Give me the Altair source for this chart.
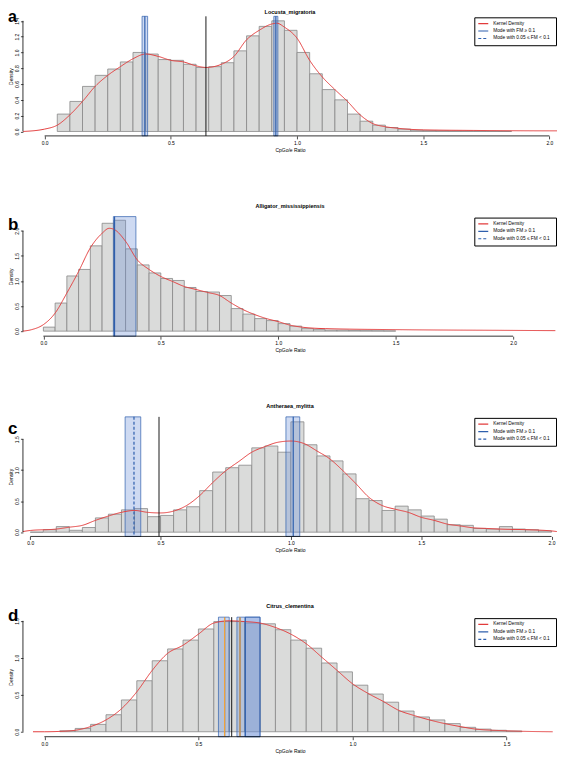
import altair as alt
import pandas as pd

FONT = "Liberation Sans"
BW = 0.05
S_KD = "Kernel Density"
S_M1 = "Mode with FM  \u2265 0.1"
S_M2 = "Mode with 0.05  \u2264 FM  < 0.1"
SERIES = [S_KD, S_M1, S_M2]
X_TITLE = "CpGo/e Ratio"
Y_TITLE = "Density"

# ---------------- panel a ----------------
a_letter = "a"
a_name = "Locusta_migratoria"
a_hist_start = 0.05
a_hist = [0.22, 0.38, 0.57, 0.71, 0.79, 0.88, 1.00, 0.98, 0.91, 0.90, 0.85, 0.81, 0.82,
          0.87, 1.02, 1.21, 1.33, 1.40, 1.28, 1.00, 0.73, 0.53, 0.40, 0.22, 0.13, 0.08,
          0.05, 0.03, 0.015, 0.01, 0.008, 0.006, 0.005, 0.004, 0.003, 0.002]
a_dens_x = [-0.085, 0.0, 0.05, 0.10, 0.15, 0.20, 0.25, 0.30, 0.35, 0.40, 0.45, 0.50, 0.55,
            0.60, 0.64, 0.70, 0.75, 0.80, 0.85, 0.90, 0.92, 0.95, 1.00, 1.05, 1.10, 1.15,
            1.20, 1.25, 1.30, 1.35, 1.40, 1.50, 1.70, 2.00, 2.03]
a_dens_y = [0.0, 0.03, 0.08, 0.21, 0.38, 0.57, 0.71, 0.82, 0.92, 0.98, 0.95, 0.90, 0.88,
            0.83, 0.81, 0.85, 0.95, 1.16, 1.28, 1.36, 1.37, 1.32, 1.18, 0.90, 0.69, 0.53,
            0.38, 0.21, 0.10, 0.06, 0.04, 0.02, 0.013, 0.008, 0.008]
a_mode = [0.397, 0.916]
a_lo = [0.386, 0.908]
a_hi = [0.408, 0.924]
a_kind = [S_M1, S_M1]
a_black = [0.639]
a_orange = []
a_xdom = [-0.086, 2.03]
a_ydom = [-0.056, 1.457]
a_xticks = [0.0, 0.5, 1.0, 1.5, 2.0]
a_yticks = [0.0, 0.2, 0.4, 0.6, 0.8, 1.0, 1.2, 1.4]

# ---------------- panel b ----------------
b_letter = "b"
b_name = "Alligator_mississippiensis"
b_hist_start = 0.0
b_hist = [0.08, 0.56, 1.10, 1.23, 1.70, 2.15, 2.21, 1.64, 1.32, 1.16, 1.05, 1.01, 0.87,
          0.79, 0.78, 0.71, 0.45, 0.34, 0.25, 0.21, 0.15, 0.10, 0.05, 0.03, 0.02, 0.02,
          0.015, 0.01, 0.008, 0.006]
b_dens_x = [-0.087, -0.05, 0.0, 0.05, 0.10, 0.15, 0.20, 0.25, 0.28, 0.30, 0.35, 0.40, 0.45,
            0.50, 0.55, 0.60, 0.65, 0.70, 0.75, 0.80, 0.85, 0.90, 0.95, 1.00, 1.05, 1.10,
            1.20, 1.50, 2.00, 2.18]
b_dens_y = [0.0, 0.03, 0.13, 0.36, 0.76, 1.19, 1.66, 1.95, 2.05, 2.03, 1.79, 1.42, 1.23,
            1.09, 0.99, 0.89, 0.83, 0.77, 0.71, 0.56, 0.43, 0.33, 0.25, 0.19, 0.12, 0.08,
            0.05, 0.03, 0.015, 0.01]
b_mode = [0.303]
b_lo = [0.298]
b_hi = [0.394]
b_kind = [S_M1]
b_black = []
b_orange = []
b_xdom = [-0.087, 2.187]
b_ydom = [-0.10, 2.283]
b_xticks = [0.0, 0.5, 1.0, 1.5, 2.0]
b_yticks = [0.0, 0.5, 1.0, 1.5, 2.0]

# ---------------- panel c ----------------
c_letter = "c"
c_name = "Antheraea_mylitta"
c_hist_start = 0.0
c_hist = [0.0, 0.04, 0.09, 0.03, 0.075, 0.23, 0.29, 0.36, 0.38, 0.25, 0.27, 0.36, 0.41,
          0.67, 0.97, 1.04, 1.08, 1.36, 1.39, 1.29, 1.78, 1.41, 1.23, 1.15, 0.94, 0.54,
          0.51, 0.35, 0.42, 0.36, 0.26, 0.21, 0.12, 0.11, 0.06, 0.05, 0.09, 0.05, 0.04, 0.02]
c_dens_x = [-0.028, 0.0, 0.10, 0.15, 0.20, 0.25, 0.30, 0.35, 0.40, 0.45, 0.50, 0.55, 0.60,
            0.65, 0.70, 0.75, 0.80, 0.85, 0.90, 0.95, 1.00, 1.05, 1.10, 1.15, 1.20, 1.25,
            1.30, 1.35, 1.40, 1.45, 1.50, 1.55, 1.60, 1.65, 1.70, 1.75, 1.80, 1.90, 2.00, 2.02]
c_dens_y = [0.01, 0.027, 0.05, 0.08, 0.11, 0.19, 0.26, 0.32, 0.35, 0.32, 0.31, 0.34, 0.43,
            0.59, 0.80, 0.99, 1.14, 1.29, 1.38, 1.45, 1.47, 1.43, 1.31, 1.18, 0.99, 0.78,
            0.56, 0.43, 0.37, 0.32, 0.24, 0.19, 0.13, 0.10, 0.07, 0.06, 0.05, 0.04, 0.02, 0.01]
c_mode = [0.398, 1.009]
c_lo = [0.364, 0.981]
c_hi = [0.424, 1.034]
c_kind = [S_M2, S_M1]
c_black = [0.494]
c_orange = []
c_xdom = [-0.028, 2.021]
c_ydom = [-0.069, 1.86]
c_xticks = [0.0, 0.5, 1.0, 1.5, 2.0]
c_yticks = [0.0, 0.5, 1.0, 1.5]

# ---------------- panel d ----------------
d_letter = "d"
d_name = "Citrus_clementina"
d_hist_start = 0.05
d_hist = [0.013, 0.045, 0.10, 0.23, 0.43, 0.69, 0.96, 1.12, 1.24, 1.39, 1.49, 1.49, 1.47,
          1.46, 1.38, 1.24, 1.13, 0.93, 0.81, 0.63, 0.51, 0.40, 0.28, 0.20, 0.16, 0.11,
          0.06, 0.036, 0.02, 0.01]
d_dens_x = [-0.037, 0.0, 0.05, 0.10, 0.15, 0.20, 0.25, 0.30, 0.35, 0.40, 0.45, 0.50, 0.55,
            0.60, 0.65, 0.70, 0.75, 0.80, 0.85, 0.90, 0.95, 1.00, 1.05, 1.10, 1.15, 1.20,
            1.25, 1.30, 1.35, 1.40, 1.50, 1.65]
d_dens_y = [0.0, 0.0, 0.005, 0.02, 0.07, 0.16, 0.31, 0.54, 0.83, 1.06, 1.17, 1.32, 1.47,
            1.50, 1.49, 1.47, 1.41, 1.32, 1.19, 1.01, 0.83, 0.65, 0.52, 0.41, 0.29, 0.22,
            0.16, 0.11, 0.07, 0.036, 0.013, 0.0]
d_mode = [0.585, 0.635, 0.652]
d_lo = [0.565, 0.625, 0.652]
d_hi = [0.600, 0.700, 0.700]
d_kind = [S_M1, S_M1, S_M1]
d_black = [0.608]
d_orange = [0.585, 0.635]
d_xdom = [-0.0696, 1.664]
d_ydom = [-0.067, 1.55]
d_xticks = [0.0, 0.5, 1.0, 1.5]
d_yticks = [0.0, 0.5, 1.0, 1.5]

# ---------------- style ----------------
W, H = 536, 120
LEFT = 15
BAR_FILL = "#dadbda"
BAR_STROKE = "#888888"
RED = "#e23b3b"
BLUE = "#2e5fad"
CI_FILL = "#6a8fd8"
ORANGE = "#f2a33a"

cscale = alt.Scale(domain=SERIES, range=[RED, BLUE, BLUE])
dscale = alt.Scale(domain=SERIES, range=[[1, 0], [1, 0], [3, 2]])
legend = alt.Legend(title=None, orient="top-right", offset=1, padding=3,
                    strokeColor="black", fillColor="white", labelFontSize=4.8,
                    labelFont=FONT, labelColor="black", symbolSize=100,
                    symbolStrokeWidth=1.2, symbolType="stroke", clipHeight=6.5,
                    rowPadding=0.5, labelOffset=4, labelLimit=200, cornerRadius=0)


def panel(letter, name, hist_start, hist, dx, dy, mode, lo, hi, kind, black, orange,
          xdom, ydom, xticks, yticks, name_y, letter_y, letter_size):
    xs = alt.Scale(domain=xdom, nice=False, zero=False)
    ys = alt.Scale(domain=ydom, nice=False, zero=False)
    xax = alt.Axis(values=xticks, format=".1f", title=X_TITLE, domain=False, grid=False)
    yax = alt.Axis(values=yticks, format=".1f", title=Y_TITLE, domain=False, grid=False,
                   labelAngle=-90, labelAlign="center", labelBaseline="bottom",
                   tickSize=2.5, labelPadding=1, titlePadding=1)

    edges = [round(hist_start + i * BW, 4) for i in range(len(hist))]
    hdf = pd.DataFrame({"x0": edges, "x1": [round(e + BW, 4) for e in edges],
                        "h": hist, "b": [0.0] * len(hist)})
    bars = alt.Chart(hdf).mark_rect(fill=BAR_FILL, stroke=BAR_STROKE, strokeWidth=0.8).encode(
        x=alt.X("x0:Q", scale=xs, axis=xax), x2="x1:Q",
        y=alt.Y("b:Q", scale=ys, axis=yax), y2="h:Q")

    mdf = pd.DataFrame({"m": mode, "lo": lo, "hi": hi, "s": kind})
    ci = alt.Chart(mdf).mark_rect(fill=CI_FILL, fillOpacity=0.33, stroke=BLUE,
                                  strokeWidth=0.7).encode(
        x=alt.X("lo:Q", scale=xs, axis=xax), x2="hi:Q")

    ddf = pd.DataFrame({"x": dx, "y": dy, "s": [S_KD] * len(dx)})
    dens = alt.Chart(ddf).mark_line(strokeWidth=1, interpolate="monotone").encode(
        x=alt.X("x:Q", scale=xs, axis=xax), y=alt.Y("y:Q", scale=ys, axis=yax),
        color=alt.Color("s:N", scale=cscale, legend=legend),
        strokeDash=alt.StrokeDash("s:N", scale=dscale, legend=legend))

    modes = alt.Chart(mdf).mark_rule(strokeWidth=1.2).encode(
        x=alt.X("m:Q", scale=xs, axis=xax),
        color=alt.Color("s:N", scale=cscale, legend=legend),
        strokeDash=alt.StrokeDash("s:N", scale=dscale, legend=legend))

    layers = [bars, ci, dens, modes]
    if black:
        layers.append(alt.Chart(pd.DataFrame({"v": black})).mark_rule(
            color="black", strokeWidth=0.9).encode(x=alt.X("v:Q", scale=xs, axis=xax)))
    if orange:
        layers.append(alt.Chart(pd.DataFrame({"v": orange})).mark_rule(
            color=ORANGE, strokeWidth=1.2).encode(x=alt.X("v:Q", scale=xs, axis=xax)))

    xline = alt.Chart(pd.DataFrame({"a": [xticks[0]], "b": [xticks[-1]], "y": [ydom[0]]})).mark_rule(
        color="black", strokeWidth=0.8).encode(
        x=alt.X("a:Q", scale=xs, axis=xax), x2="b:Q", y=alt.Y("y:Q", scale=ys, axis=yax))
    yline = alt.Chart(pd.DataFrame({"x": [xdom[0]], "a": [yticks[0]], "b": [yticks[-1]]})).mark_rule(
        color="black", strokeWidth=0.8).encode(
        x=alt.X("x:Q", scale=xs, axis=xax), y=alt.Y("a:Q", scale=ys, axis=yax), y2="b:Q")
    lab = alt.Chart(pd.DataFrame({"t": [letter]})).mark_text(
        align="left", baseline="alphabetic", fontSize=letter_size, fontWeight="bold",
        font=FONT, color="black").encode(text="t:N", x=alt.value(-LEFT), y=alt.value(letter_y))
    ttl = alt.Chart(pd.DataFrame({"t": [name]})).mark_text(
        align="center", baseline="middle", fontSize=5.5, fontWeight="bold",
        font=FONT, color="black").encode(text="t:N", x=alt.value(W / 2), y=alt.value(name_y))
    layers += [xline, yline, lab, ttl]

    return alt.layer(*layers).properties(width=W, height=H)


pa = panel(a_letter, a_name, a_hist_start, a_hist, a_dens_x, a_dens_y, a_mode, a_lo, a_hi,
           a_kind, a_black, a_orange, a_xdom, a_ydom, a_xticks, a_yticks, -4, 6, 16)
pb = panel(b_letter, b_name, b_hist_start, b_hist, b_dens_x, b_dens_y, b_mode, b_lo, b_hi,
           b_kind, b_black, b_orange, b_xdom, b_ydom, b_xticks, b_yticks, -11, 13, 17)
pc = panel(c_letter, c_name, c_hist_start, c_hist, c_dens_x, c_dens_y, c_mode, c_lo, c_hi,
           c_kind, c_black, c_orange, c_xdom, c_ydom, c_xticks, c_yticks, -11, 17, 17)
pd_ = panel(d_letter, d_name, d_hist_start, d_hist, d_dens_x, d_dens_y, d_mode, d_lo, d_hi,
            d_kind, d_black, d_orange, d_xdom, d_ydom, d_xticks, d_yticks, -11, 4, 17)

chart = alt.vconcat(pa, pb, pc, pd_, spacing=51).resolve_scale(
    x="independent", y="independent", color="independent", strokeDash="independent"
).resolve_legend(color="independent", strokeDash="independent").properties(
    padding={"left": 0, "top": 0, "right": 0, "bottom": 0}
).configure_view(stroke=None).configure_axis(
    labelFontSize=5, titleFontSize=5, labelFont=FONT, titleFont=FONT,
    titleFontWeight="normal", labelColor="black", titleColor="black",
    tickSize=3, tickWidth=0.7, tickColor="black", labelPadding=1.5, titlePadding=2
)

chart.save("out.html", embed_options={"renderer": "svg", "actions": False})
